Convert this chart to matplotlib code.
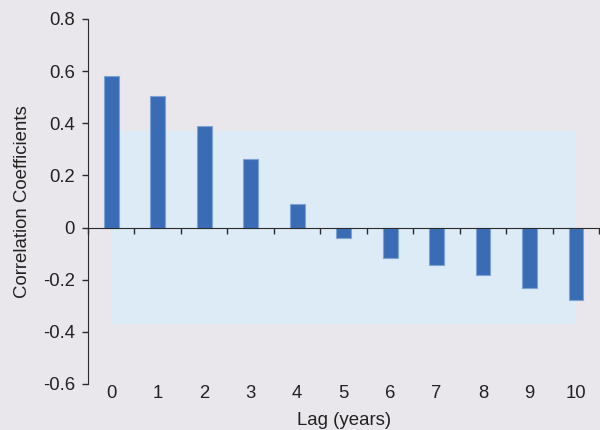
import matplotlib
matplotlib.use("Agg")
import matplotlib.pyplot as plt
import matplotlib.transforms as mtransforms
import numpy as np

# Dados
lags = [0, 1, 2, 3, 4, 5, 6, 7, 8, 9, 10]
coeficientes = [0.58, 0.505, 0.39, 0.262, 0.09, -0.04, -0.118, -0.143, -0.182, -0.232, -0.278]
limite_conf = 0.37
y_ticks = [-0.6, -0.4, -0.2, 0, 0.2, 0.4, 0.6, 0.8]

plt.rcParams["font.family"] = ["Liberation Sans", "DejaVu Sans"]

bg = "#e9e7ec"
fig = plt.figure(figsize=(6, 4.3), dpi=100, facecolor=bg)
ax = fig.add_axes([0.1467, 0.107, 0.852, 0.849])
ax.set_facecolor(bg)

# Faixa de significância
ax.fill_between([lags[0], lags[-1]], -limite_conf, limite_conf,
                color="#ddebf7", linewidth=0, zorder=1)

# Barras
ax.bar(lags, coeficientes, width=0.32, color="#3a6bb5",
       edgecolor="#7ea2d4", linewidth=0.8, zorder=3)

ax.set_xlim(-0.5, 10.5)
ax.set_ylim(-0.6, 0.8)

# Eixos
for s in ["top", "right"]:
    ax.spines[s].set_visible(False)
ax.spines["bottom"].set_position(("data", 0))
ax.spines["bottom"].set_zorder(4)
ax.spines["bottom"].set_color("#2b2b2b")
ax.spines["left"].set_color("#2b2b2b")

ax.set_xticks(np.arange(-0.5, 11, 1))
ax.set_xticklabels([])
ax.tick_params(axis="x", direction="out", length=4.3, width=1, color="#2b2b2b")

ax.set_yticks(y_ticks)
ax.set_yticklabels(["0" if v == 0 else f"{v:.1f}" for v in y_ticks])
ax.tick_params(axis="y", direction="out", length=4.3, width=1, color="#2b2b2b",
               labelsize=13.3, labelcolor="#222222", pad=5)

# Rótulos das categorias abaixo do eixo
trans = mtransforms.blended_transform_factory(ax.transData, ax.transAxes)
for lag in lags:
    ax.text(lag, -0.002, str(lag), transform=trans, ha="center", va="top",
            fontsize=13.3, color="#222222")

ax.text(0.5, -0.1, "Lag (years)", transform=ax.transAxes, ha="center",
        va="center", fontsize=13.4, color="#222222")
ax.set_ylabel("Correlation Coefficients", fontsize=13.4, color="#222222")
ax.yaxis.set_label_coords(-0.112, 0.5)

plt.savefig("out.png", dpi=100, facecolor=bg)
